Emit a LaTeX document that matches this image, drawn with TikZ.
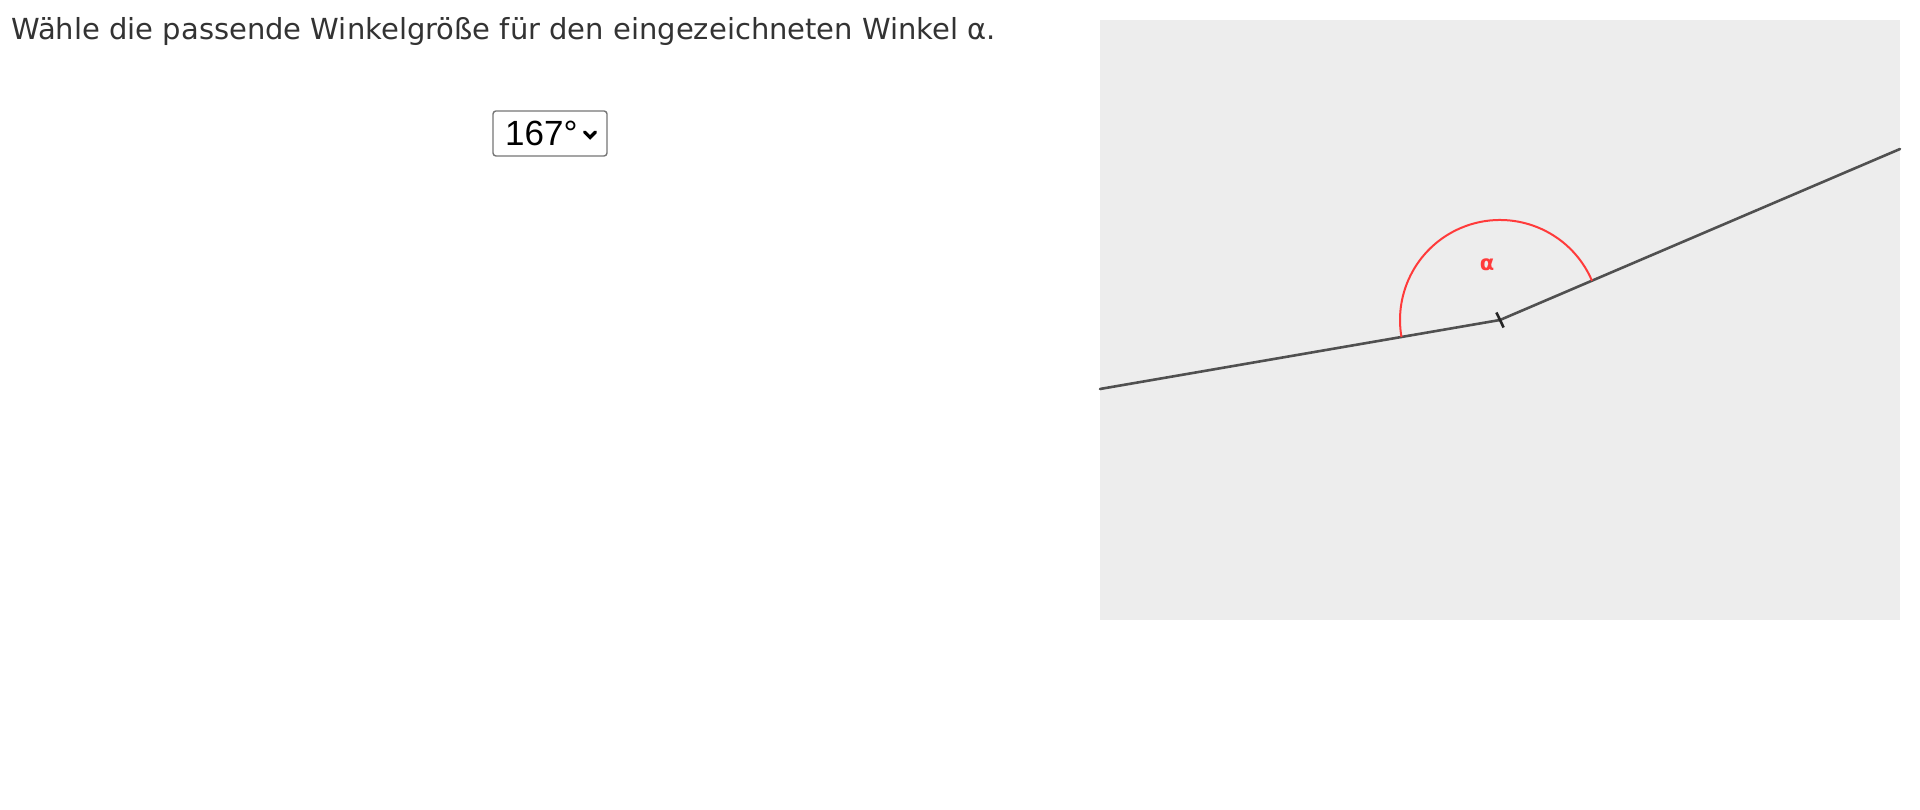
\documentclass[tikz,border=0pt]{standalone}
\usepackage{fontspec}
\setmainfont{DejaVu Sans}
\newfontfamily\arialfont{Liberation Sans}
\definecolor{txtgray}{HTML}{333333}
\definecolor{panelgray}{HTML}{EDEDED}
\definecolor{linegray}{HTML}{505050}
\definecolor{arcred}{HTML}{FF3B3B}
\definecolor{boxborder}{HTML}{767676}
\begin{document}
\begin{tikzpicture}[x=1pt,y=1pt,
  leg/.style={draw=linegray,line width=2.6pt,line cap=round},
  anglearc/.style={draw=arcred,line width=2pt},
  vtick/.style={draw=black!85,line width=2.6pt}]
\useasboundingbox (0,0) rectangle (1920,810);
\fill[white] (0,0) rectangle (1920,810);
% question text
\node[anchor=base west,inner sep=0pt,text=txtgray,font=\fontsize{29}{34}\selectfont] (question) at (11,770.5)
  {Wähle die passende Winkelgröße für den eingezeichneten Winkel α.};
% select box
\draw[boxborder,line width=1.4pt,rounded corners=3pt,fill=white] (493,699) rectangle (607,654);
\node[anchor=base west,inner sep=0pt,font=\arialfont\fontsize{35}{40}\selectfont] (choice) at (505,664) {167°};
\draw[black,line width=3.2pt,line cap=round,line join=miter] (584.5,678) -- (590,672.5) -- (595.5,678);
% panel
\fill[panelgray] (1100,190) rectangle (1900,790);
\coordinate (L) at (1100,421);
\coordinate (V) at (1500,490);
\coordinate (R) at (1900,661);
\draw[leg] (L) -- (V) -- (R);
\draw[anglearc] ([shift={(23.15:100)}]V) arc[start angle=23.15,end angle=189.79,radius=100];
\draw[vtick] ([shift={(-3.6,7.5)}]V) -- ([shift={(3.6,-7.5)}]V);
\node[text=arcred,inner sep=0pt,font=\bfseries\fontsize{21}{24}\selectfont] (alpha) at (1487,545) {α};
\end{tikzpicture}
\end{document}
